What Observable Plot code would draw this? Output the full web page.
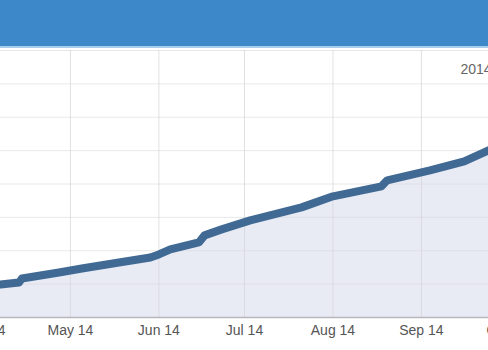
<!DOCTYPE html>
<html>
<head>
<meta charset="utf-8">
<script src="https://cdn.jsdelivr.net/npm/d3@7"></script>
<script src="https://cdn.jsdelivr.net/npm/@observablehq/plot@0.6"></script>
<style>
  html, body { margin: 0; padding: 0; background: #fff; overflow: hidden; }
  #header { height: 46px; background: #3d88c9; border-bottom: 2px solid #a9cdec; }
  #chart svg { display: block; }
</style>
</head>
<body>
<div id="header"></div>
<div id="chart"></div>
<script>
const dates = ["2014-04-06T12:00", "2014-04-13", "2014-04-14", "2014-04-27", "2014-05-05",
  "2014-05-18", "2014-05-29", "2014-06-01", "2014-06-05", "2014-06-15", "2014-06-17",
  "2014-06-23", "2014-07-03", "2014-07-21", "2014-08-01", "2014-08-18", "2014-08-20",
  "2014-09-04", "2014-09-16", "2014-09-24T12:00"];
const values = [99, 105, 117, 135, 147, 165, 180, 189, 204, 225, 246, 264, 291, 330, 363, 393, 411, 441, 468, 501];
const monthTicks = ["2014-04-01", "2014-05-01", "2014-06-01", "2014-07-01", "2014-08-01", "2014-09-01", "2014-10-01"];
const yGrid = [100, 200, 300, 400, 500, 600, 700, 800];
const cornerLabel = ["2014"];

const data = dates.map((d, i) => ({date: new Date(d), value: values[i]}));
const ticks = monthTicks.map(d => new Date(d));

const plot = Plot.plot({
  width: 488,
  height: 302,
  marginLeft: 0,
  marginRight: 0,
  marginTop: 2,
  marginBottom: 33,
  style: {fontFamily: "Liberation Sans, Arial, sans-serif", fontSize: "14px", color: "#555", background: "#fff"},
  x: {type: "utc", domain: [new Date("2014-04-06T12:00"), new Date("2014-09-24T12:00")], label: null},
  y: {domain: [0, 800], axis: null},
  marks: [
    Plot.areaY(data, {x: "date", y: "value", fill: "#e8eaf4"}),
    Plot.ruleY(yGrid, {stroke: "#d8d8dc", strokeOpacity: 0.6}),
    Plot.ruleX(ticks, {stroke: "#d4d4d8", strokeOpacity: 0.7}),
    Plot.ruleY([0], {stroke: "#b8b8bc", strokeWidth: 1.5}),
    Plot.lineY(data, {x: "date", y: "value", stroke: "#406993", strokeWidth: 8, strokeLinejoin: "round", strokeLinecap: "round"}),
    Plot.axisX({ticks, tickFormat: d3.utcFormat("%b %y"), tickSize: 0, tickPadding: 8, label: null, fill: "#555"}),
    Plot.text(cornerLabel, {frameAnchor: "top-right", textAnchor: "start", dx: -28, dy: 14, fill: "#666", fontSize: 14})
  ]
});
document.getElementById("chart").appendChild(plot);
</script>
</body>
</html>
